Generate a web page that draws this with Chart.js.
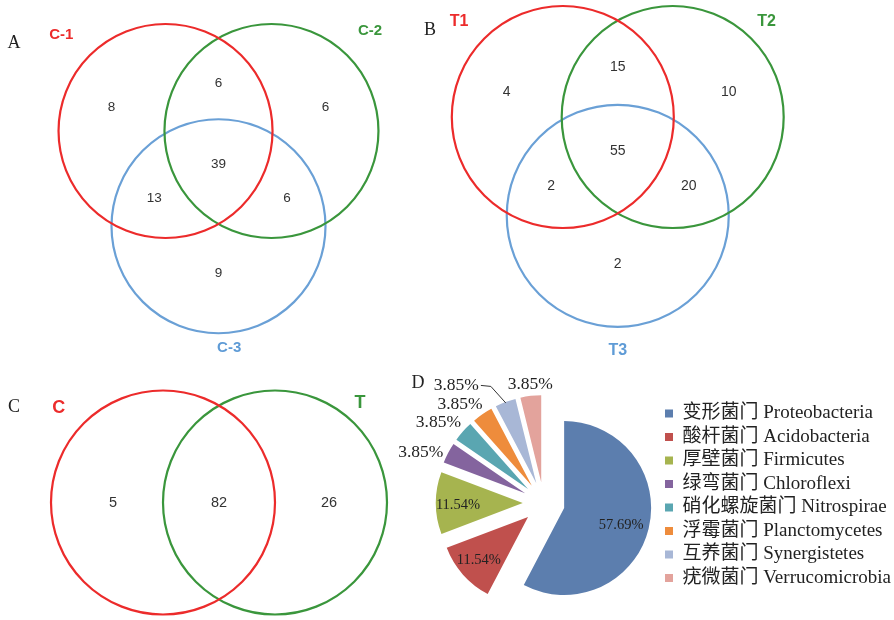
<!DOCTYPE html>
<html><head><meta charset="utf-8">
<script src="https://cdn.jsdelivr.net/npm/chart.js@4.4.1/dist/chart.umd.min.js"></script>
<style>
html,body{margin:0;padding:0;background:#fff;}
#wrap{position:relative;width:894px;height:620px;overflow:hidden;background:#fff;}
canvas{position:absolute;}
</style></head><body>
<div id="wrap">
<canvas id="vA"></canvas>
<canvas id="vB"></canvas>
<canvas id="vC"></canvas>
<canvas id="pD"></canvas>
</div>
<script>
// ---------------- data ----------------
const vennA_sets = ['C-1', 'C-2', 'C-3'];
// region order: only1, only2, only3, 1∩2, 1∩3, 2∩3, 1∩2∩3
const vennA_counts = [8, 6, 9, 6, 13, 6, 39];
const vennB_sets = ['T1', 'T2', 'T3'];
const vennB_counts = [4, 10, 2, 15, 2, 20, 55];
const vennC_sets = ['C', 'T'];
// region order: only1, only2, both
const vennC_counts = [5, 26, 82];
const phylum_cn = ['变形菌门', '酸杆菌门', '厚壁菌门', '绿弯菌门', '硝化螺旋菌门', '浮霉菌门', '互养菌门', '疣微菌门'];
const phylum_en = ['Proteobacteria', 'Acidobacteria', 'Firmicutes', 'Chloroflexi', 'Nitrospirae', 'Planctomycetes', 'Synergistetes', 'Verrucomicrobia'];
const phylum_pct = [57.69, 11.54, 11.54, 3.85, 3.85, 3.85, 3.85, 3.85];

// ---------------- layout / style ----------------
const SET_COLORS = ['#EC2B2B', '#3A963C', '#6AA0D6'];
const LABEL_COLORS = ['#EC2B2B', '#3A963C', '#5E9BD6'];
const PIE_COLORS = ['#5C7EAE', '#C0504D', '#A6B44F', '#84649E', '#5AA6B1', '#EE8C3C', '#A8B7D6', '#E3A39C'];
const SANS = '"Liberation Sans", Arial, sans-serif';
const SERIF = '"Liberation Serif", "Times New Roman", serif';
const CJK = '"Liberation Serif", "Noto Sans CJK SC", serif';

// Venn templates in circle-radius units
const VENN3 = {
  circles: [[-0.495, 0], [0.495, 0], [0, -0.89]],
  regions: [[-1.0, 0.22], [1.0, 0.22], [0, -1.33], [0, 0.445], [-0.6, -0.625], [0.64, -0.625], [0, -0.307]]
};
const VENN2 = {
  circles: [[-0.5, 0], [0.5, 0]],
  regions: [[-0.946, 0], [0.982, 0], [0, 0]]
};

const panels = [
  {id: 'vA', left: 0, top: 0, w: 430, h: 360, ox: 218.5, oy: 131, unit: 107, tmpl: VENN3,
   sets: vennA_sets, counts: vennA_counts, setPos: [[-1.47, 0.897], [1.416, 0.935], [0.1, -2.03]],
   setFont: 15, numFont: 13.5, letter: 'A', letterPos: [14, 43]},
  {id: 'vB', left: 420, top: 0, w: 474, h: 365, ox: 617.75, oy: 117, unit: 111, tmpl: VENN3,
   sets: vennB_sets, counts: vennB_counts, setPos: [[-1.43, 0.856], [1.34, 0.856], [0, -2.1]],
   setFont: 16, numFont: 14, letter: 'B', letterPos: [430, 30]},
  {id: 'vC', left: 0, top: 360, w: 400, h: 260, ox: 219, oy: 502.5, unit: 112, tmpl: VENN2,
   sets: vennC_sets, counts: vennC_counts, setPos: [[-1.43, 0.844], [1.26, 0.89]],
   setFont: 18, numFont: 14.5, letter: 'C', letterPos: [14, 407]}
];

function placeCanvas(el, left, top, w, h) {
  el.width = w; el.height = h;
  el.style.left = left + 'px'; el.style.top = top + 'px';
  el.style.width = w + 'px'; el.style.height = h + 'px';
}

const vennText = {
  id: 'vennText',
  afterDatasetsDraw(chart, args, opts) {
    const p = opts.panel;
    const {ctx, scales: {x, y}} = chart;
    ctx.save();
    ctx.textAlign = 'center';
    ctx.textBaseline = 'middle';
    ctx.fillStyle = '#333';
    ctx.font = p.numFont + 'px ' + SANS;
    p.counts.forEach((c, i) => {
      const pos = p.tmpl.regions[i];
      ctx.fillText(String(c), x.getPixelForValue(pos[0]), y.getPixelForValue(pos[1]));
    });
    ctx.font = 'bold ' + p.setFont + 'px ' + SANS;
    p.sets.forEach((s, i) => {
      ctx.fillStyle = LABEL_COLORS[i];
      ctx.fillText(s, x.getPixelForValue(p.setPos[i][0]), y.getPixelForValue(p.setPos[i][1]));
    });
    ctx.fillStyle = '#222';
    ctx.font = '18px ' + SERIF;
    ctx.fillText(p.letter, p.letterPos[0] - p.left, p.letterPos[1] - p.top);
    ctx.restore();
  }
};

panels.forEach(p => {
  const el = document.getElementById(p.id);
  placeCanvas(el, p.left, p.top, p.w, p.h);
  const radiusPx = (ctx) => {
    const s = ctx.chart.scales.x;
    return Math.abs(s.getPixelForValue(1) - s.getPixelForValue(0));
  };
  new Chart(el, {
    type: 'scatter',
    data: {
      datasets: p.sets.map((name, i) => ({
        label: name,
        data: [{x: p.tmpl.circles[i][0], y: p.tmpl.circles[i][1]}],
        pointRadius: radiusPx,
        pointHoverRadius: radiusPx,
        pointStyle: 'circle',
        backgroundColor: 'rgba(0,0,0,0)',
        borderColor: SET_COLORS[i],
        borderWidth: 2.2,
        clip: false
      }))
    },
    options: {
      responsive: false, animation: false, events: [], devicePixelRatio: 1,
      layout: {padding: 0},
      scales: {
        x: {type: 'linear', display: false, min: (p.left - p.ox) / p.unit, max: (p.left + p.w - p.ox) / p.unit},
        y: {type: 'linear', display: false, min: (p.oy - p.top - p.h) / p.unit, max: (p.oy - p.top) / p.unit}
      },
      plugins: {legend: {display: false}, tooltip: {enabled: false}, vennText: {panel: p}}
    },
    plugins: [vennText]
  });
});

// ---------------- pie ----------------
const PIE_BOX = {left: 390, top: 360, w: 508, h: 260};
const EXPLODE = 21;
const PIE_NUDGE = {3: [-2, 6], 4: [-3, 0], 5: [-6, 1], 6: [-39, -4], 7: [3, 2]};

const explodePlugin = {
  id: 'explode',
  afterDatasetsUpdate(chart) {
    chart.getDatasetMeta(0).data.forEach(a => {
      const m = (a.startAngle + a.endAngle) / 2;
      a.x += EXPLODE * Math.cos(m);
      a.y += EXPLODE * Math.sin(m);
    });
  }
};

const pieLabels = {
  id: 'pieLabels',
  afterDatasetsDraw(chart) {
    const {ctx} = chart;
    const arcs = chart.getDatasetMeta(0).data;
    ctx.save();
    ctx.fillStyle = '#222';
    ctx.textAlign = 'center';
    ctx.textBaseline = 'middle';
    arcs.forEach((a, i) => {
      const m = (a.startAngle + a.endAngle) / 2;
      const dx = Math.cos(m), dy = Math.sin(m);
      const R = a.outerRadius;
      const txt = phylum_pct[i].toFixed(2) + '%';
      if (phylum_pct[i] > 10) {
        ctx.font = '14.5px ' + SERIF;
        ctx.fillText(txt, a.x + dx * R * 0.71 - 3, a.y + dy * R * 0.71 + 2);
      } else {
        ctx.font = '17.5px ' + SERIF;
        const w = ctx.measureText(txt).width, h = 15;
        const ax = a.x + dx * (R + 6), ay = a.y + dy * (R + 6);
        let cx = ax + dx * w / 2, cy = ay + dy * h / 2;
        const n = PIE_NUDGE[i];
        if (n) { cx += n[0]; cy += n[1]; }
        if (i === 6) {
          ctx.strokeStyle = '#333';
          ctx.lineWidth = 1;
          ctx.beginPath();
          const sx = cx + w / 2 + 2;
          ctx.moveTo(sx, cy);
          ctx.lineTo(sx + 10, cy + 1);
          ctx.lineTo(a.x + dx * (R - 1), a.y + dy * (R - 1));
          ctx.stroke();
        }
        ctx.fillText(txt, cx, cy);
      }
    });
    ctx.font = '18px ' + SERIF;
    ctx.fillText('D', 418 - PIE_BOX.left, 383 - PIE_BOX.top);
    ctx.restore();
  }
};

const pel = document.getElementById('pD');
placeCanvas(pel, PIE_BOX.left, PIE_BOX.top, PIE_BOX.w, PIE_BOX.h);
new Chart(pel, {
  type: 'pie',
  data: {
    labels: phylum_cn.map((c, i) => c + ' ' + phylum_en[i]),
    datasets: [{data: phylum_pct, backgroundColor: PIE_COLORS, borderWidth: 0, radius: 87}]
  },
  options: {
    responsive: false, animation: false, events: [], devicePixelRatio: 1,
    radius: 87,
    layout: {padding: {left: 37, right: 4, top: 39.5, bottom: 13.5}},
    plugins: {
      tooltip: {enabled: false},
      legend: {
        position: 'right', align: 'start',
        labels: {boxWidth: 8, boxHeight: 8, padding: 4.5, color: '#222', font: {family: CJK, size: 19}}
      }
    }
  },
  plugins: [explodePlugin, pieLabels]
});
</script>
</body></html>
